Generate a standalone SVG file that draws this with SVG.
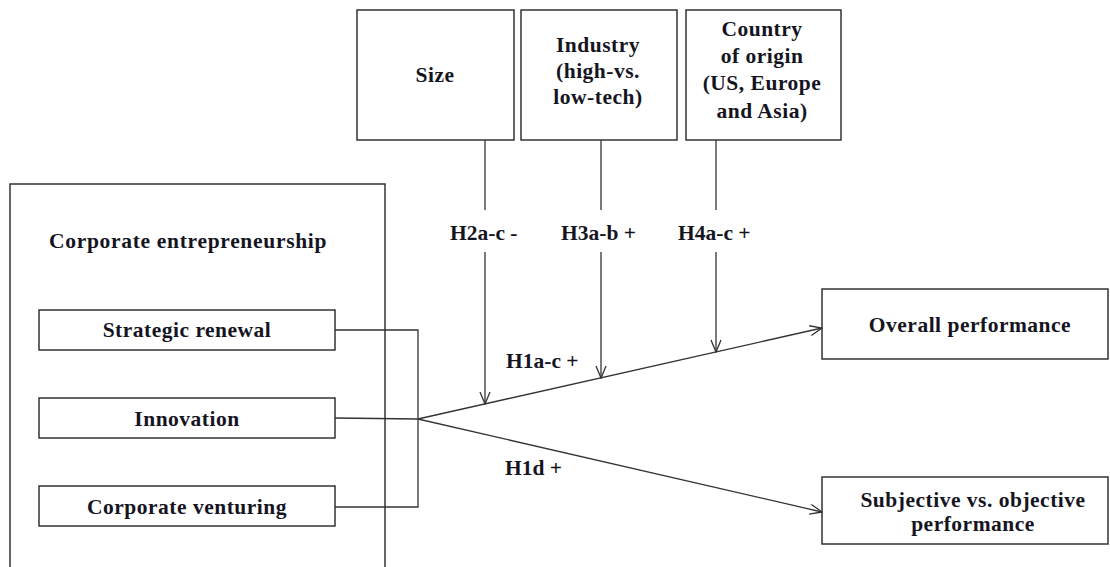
<svg xmlns="http://www.w3.org/2000/svg" width="1110" height="567" viewBox="0 0 1110 567">
  <style>
    .box { fill: #ffffff; stroke: #333333; stroke-width: 1.5; }
    .ln { fill: none; stroke: #333333; stroke-width: 1.3; }
    .t { font-family: "Liberation Serif", "Times New Roman", serif; font-weight: bold; font-size: 21.5px; letter-spacing: 0.5px; fill: #15151f; }
    .s { letter-spacing: 0px; }
    .c { text-anchor: middle; }
  </style>
  <defs>
    <marker id="arrow" viewBox="0 0 14 12" refX="13" refY="6" markerWidth="14" markerHeight="12" markerUnits="userSpaceOnUse" orient="auto">
      <polyline points="1,1 13,6 1,11" fill="none" stroke="#333333" stroke-width="1.3"/>
    </marker>
  </defs>
  <rect width="1110" height="567" fill="#ffffff"/>

  <!-- outer container -->
  <g id="corporate-entrepreneurship">
    <rect class="box" x="10" y="184" width="375" height="400"/>
    <text class="t" x="49" y="248" textLength="278">Corporate entrepreneurship</text>
  </g>

  <g id="strategic-renewal">
    <rect class="box" x="39" y="310" width="296" height="40"/>
    <text class="t c" x="187" y="337">Strategic renewal</text>
  </g>
  <g id="innovation">
    <rect class="box" x="39" y="398" width="296" height="40"/>
    <text class="t c" x="187" y="426">Innovation</text>
  </g>
  <g id="corporate-venturing">
    <rect class="box" x="39" y="486" width="296" height="40"/>
    <text class="t c" x="187" y="514">Corporate venturing</text>
  </g>

  <!-- moderators -->
  <g id="size">
    <rect class="box" x="357" y="10" width="157" height="130"/>
    <text class="t c" x="435" y="82">Size</text>
  </g>
  <g id="industry">
    <rect class="box" x="521" y="10" width="156" height="130"/>
    <text class="t c" x="598" y="52">Industry</text>
    <text class="t c" x="598" y="78">(high-vs.</text>
    <text class="t c" x="598" y="104">low-tech)</text>
  </g>
  <g id="country">
    <rect class="box" x="686" y="10" width="155" height="130"/>
    <text class="t c" x="762" y="36">Country</text>
    <text class="t c" x="762" y="63">of origin</text>
    <text class="t c" x="762" y="90">(US, Europe</text>
    <text class="t c" x="762" y="118">and Asia)</text>
  </g>

  <!-- outcomes -->
  <g id="overall-performance">
    <rect class="box" x="822" y="289" width="286" height="70"/>
    <text class="t c" x="970" y="332">Overall performance</text>
  </g>
  <g id="subjective-objective">
    <rect class="box" x="822" y="477" width="286" height="67"/>
    <text class="t c" x="973" y="507">Subjective vs. objective</text>
    <text class="t c" x="973" y="531">performance</text>
  </g>

  <g id="connectors">
    <!-- bracket joining the three dimensions -->
    <polyline class="ln" points="335,330 418,330 418,507 335,507"/>
    <line class="ln" x1="335" y1="418" x2="418" y2="419"/>
    <!-- main effects -->
    <line class="ln" x1="418" y1="419" x2="822" y2="328" marker-end="url(#arrow)"/>
    <line class="ln" x1="418" y1="419" x2="822" y2="512" marker-end="url(#arrow)"/>
    <!-- moderating effects -->
    <line class="ln" x1="485" y1="140" x2="485" y2="210"/>
    <line class="ln" x1="485" y1="252" x2="485" y2="404" marker-end="url(#arrow)"/>
    <line class="ln" x1="601" y1="140" x2="601" y2="210"/>
    <line class="ln" x1="601" y1="252" x2="601" y2="378" marker-end="url(#arrow)"/>
    <line class="ln" x1="716" y1="140" x2="716" y2="210"/>
    <line class="ln" x1="716" y1="252" x2="716" y2="352" marker-end="url(#arrow)"/>
  </g>

  <g id="labels">
    <text class="t s" x="450" y="240">H2a-c -</text>
    <text class="t s" x="561" y="240">H3a-b +</text>
    <text class="t s" x="678" y="240">H4a-c +</text>
    <text class="t s" x="506" y="368">H1a-c +</text>
    <text class="t s" x="505" y="475">H1d +</text>
  </g>
</svg>
